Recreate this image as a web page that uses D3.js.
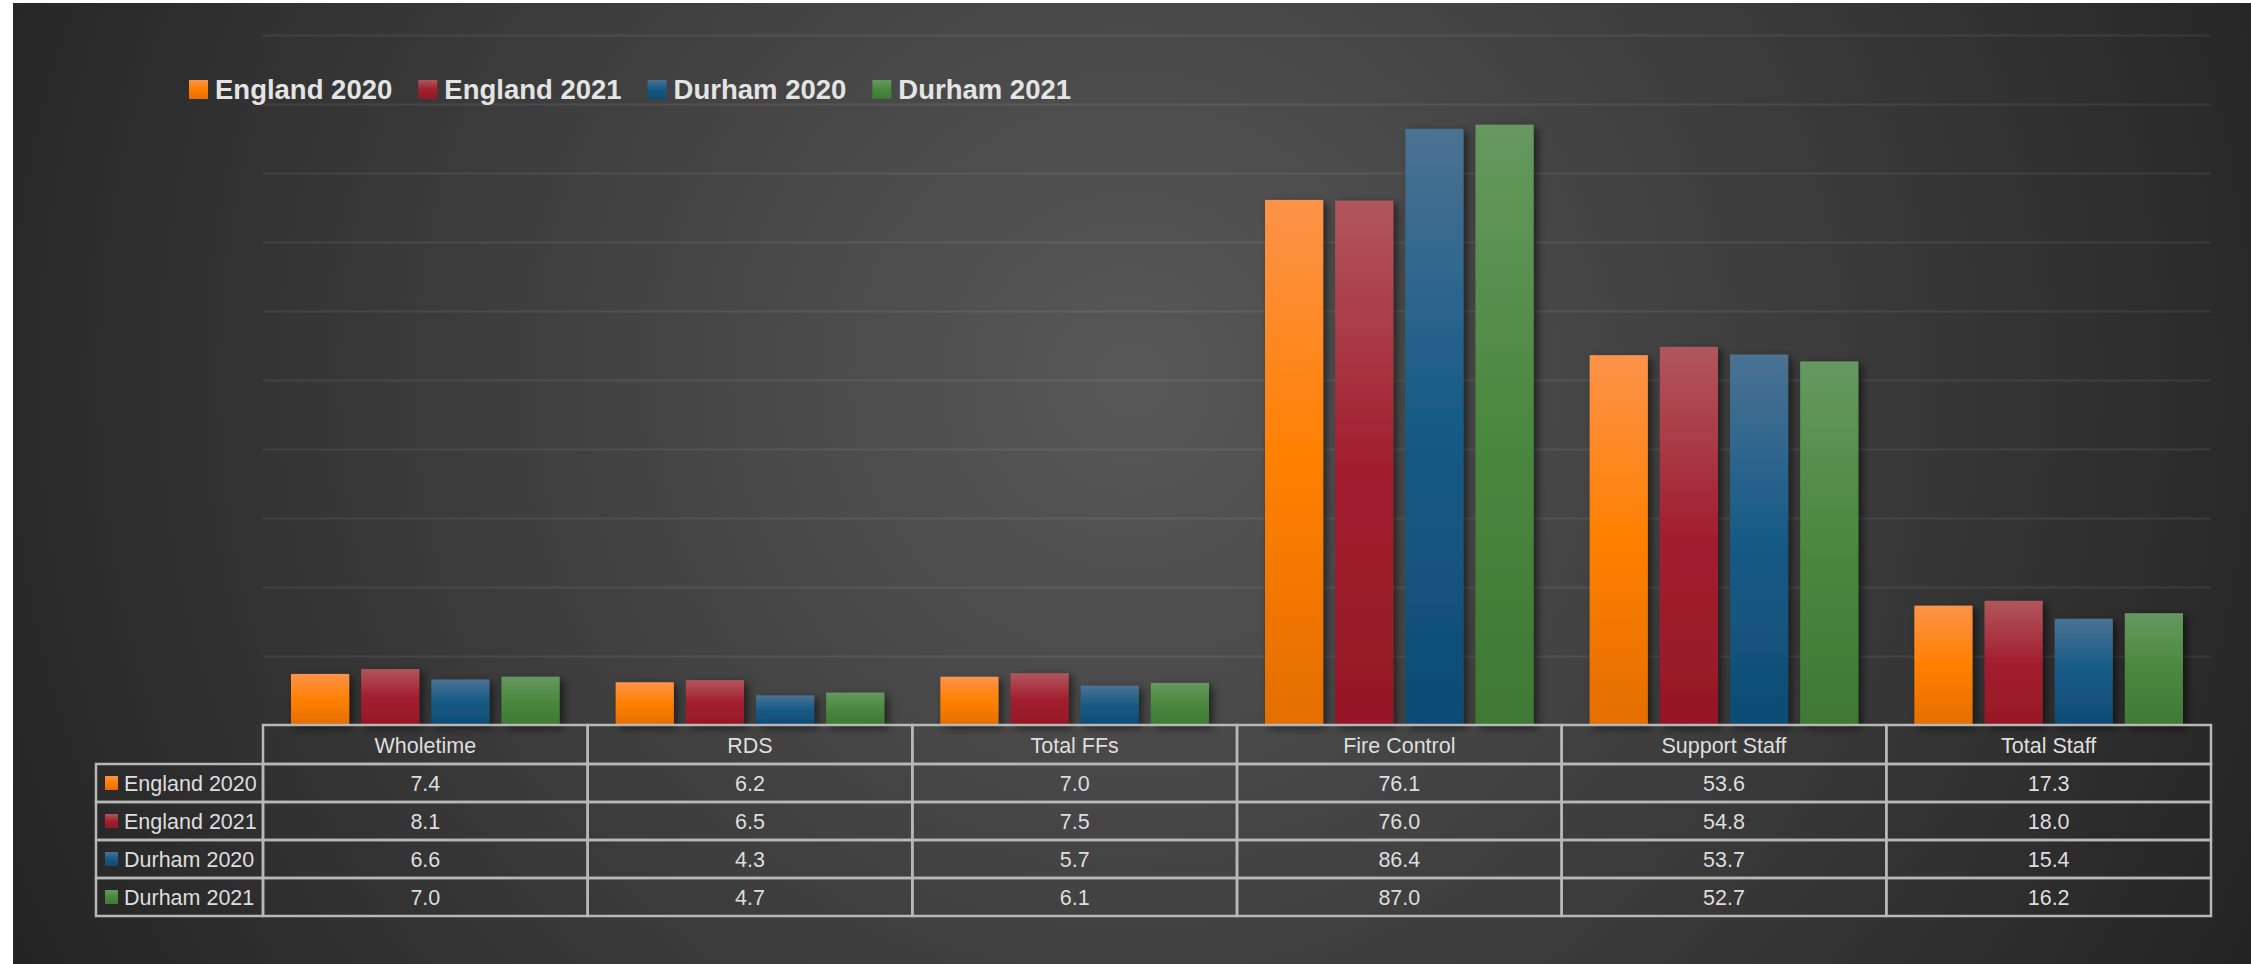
<!DOCTYPE html>
<html>
<head>
<meta charset="utf-8">
<script src="https://cdn.jsdelivr.net/npm/d3@7"></script>
<style>
  body { margin: 0; background: #fff; }
  svg { display: block; font-family: "Liberation Sans", Arial, sans-serif; }
</style>
</head>
<body>
<svg id="svg1" width="2251" height="964"></svg>
<script>
var categories = ['Wholetime', 'RDS', 'Total FFs', 'Fire Control', 'Support Staff', 'Total Staff'];
var seriesNames = ['England 2020', 'England 2021', 'Durham 2020', 'Durham 2021'];
var england2020 = [7.4, 6.2, 7.0, 76.1, 53.6, 17.3];
var england2021 = [8.1, 6.5, 7.5, 76.0, 54.8, 18.0];
var durham2020 = [6.6, 4.3, 5.7, 86.4, 53.7, 15.4];
var durham2021 = [7.0, 4.7, 6.1, 87.0, 52.7, 16.2];
var gridTicks = [10, 20, 30, 40, 50, 60, 70, 80, 90, 100];

var seriesValues = [england2020, england2021, durham2020, durham2021];
// top / middle / bottom of each bar's gradient
var seriesColors = [
    ['#fd934a', '#ff8000', '#e46e00'],
    ['#b1565d', '#a21f2f', '#951826'],
    ['#4a7293', '#165a86', '#0f4c73'],
    ['#66985f', '#4b883f', '#3e7934']
];

var width = 2251, height = 964;
var plotLeft = 263, plotRight = 2211, plotTop = 35, baseline = 725;
var tableLeft = 96, headerH = 39, rowH = 38;

var svg = d3.select('#svg1');
var defs = svg.append('defs');

var bg = defs.append('radialGradient')
    .attr('id', 'bg')
    .attr('gradientUnits', 'userSpaceOnUse')
    .attr('cx', 1130).attr('cy', 380).attr('r', 1300);
bg.append('stop').attr('offset', 0).attr('stop-color', '#585858');
bg.append('stop').attr('offset', 1).attr('stop-color', '#222222');

seriesColors.forEach(function(c, i) {
    var g = defs.append('linearGradient')
        .attr('id', 'grad' + i)
        .attr('x1', 0).attr('y1', 0).attr('x2', 0).attr('y2', 1);
    g.append('stop').attr('offset', 0).attr('stop-color', c[0]);
    g.append('stop').attr('offset', 0.5).attr('stop-color', c[1]);
    g.append('stop').attr('offset', 1).attr('stop-color', c[2]);
});

var shadow = defs.append('filter')
    .attr('id', 'shadow')
    .attr('x', '-30%').attr('y', '-10%').attr('width', '170%').attr('height', '130%');
shadow.append('feDropShadow')
    .attr('dx', 4).attr('dy', 3).attr('stdDeviation', 4)
    .attr('flood-color', '#000').attr('flood-opacity', 0.55);

// background
svg.append('rect')
    .attr('x', 13).attr('y', 3)
    .attr('width', width - 13).attr('height', height - 3)
    .attr('fill', 'url(#bg)');

// scales
var x0 = d3.scaleBand().domain(categories).range([plotLeft, plotRight]);
var x1 = d3.scaleBand().domain(seriesNames)
    .range([28, x0.bandwidth() - 28])
    .paddingInner(0.171);
var y = d3.scaleLinear().domain([0, 100]).range([baseline, plotTop]);

// gridlines
var grid = svg.append('g')
    .attr('transform', 'translate(' + plotLeft + ',0)')
    .call(d3.axisLeft(y).tickValues(gridTicks).tickSize(-(plotRight - plotLeft)).tickFormat(''));
grid.select('.domain').remove();
grid.selectAll('line')
    .attr('stroke', '#ffffff')
    .attr('stroke-opacity', 0.08)
    .attr('stroke-width', 2);

// bars
var groups = svg.selectAll('g.series')
    .data(seriesNames)
    .enter()
    .append('g')
    .attr('class', 'series')
    .attr('filter', 'url(#shadow)');

groups.selectAll('rect')
    .data(function(s, i) {
        return categories.map(function(c, j) {
            return {cat: c, series: s, idx: i, value: seriesValues[i][j]};
        });
    })
    .enter()
    .append('rect')
    .attr('x', function(d) { return x0(d.cat) + x1(d.series); })
    .attr('y', function(d) { return y(d.value); })
    .attr('width', x1.bandwidth())
    .attr('height', function(d) { return baseline - y(d.value); })
    .attr('fill', function(d) { return 'url(#grad' + d.idx + ')'; });

// data table
var table = svg.append('g');
var lineColor = '#b8b8b8';
var textColor = '#dedede';
var fmt = d3.format('.1f');

table.selectAll('rect.head')
    .data(categories)
    .enter()
    .append('rect')
    .attr('class', 'head')
    .attr('x', function(d) { return x0(d); })
    .attr('y', baseline)
    .attr('width', x0.bandwidth())
    .attr('height', headerH)
    .attr('fill', 'none')
    .attr('stroke', lineColor)
    .attr('stroke-width', 2.5);

table.selectAll('text.head')
    .data(categories)
    .enter()
    .append('text')
    .attr('class', 'head')
    .attr('x', function(d) { return x0(d) + x0.bandwidth() / 2; })
    .attr('y', baseline + headerH / 2 + 1)
    .attr('text-anchor', 'middle')
    .attr('dominant-baseline', 'central')
    .attr('fill', textColor)
    .attr('font-size', 21.5)
    .text(function(d) { return d; });

var rows = table.selectAll('g.row')
    .data(seriesNames)
    .enter()
    .append('g')
    .attr('class', 'row')
    .attr('transform', function(d, i) {
        return 'translate(0,' + (baseline + headerH + i * rowH) + ')';
    });

rows.append('rect')
    .attr('x', tableLeft)
    .attr('width', plotLeft - tableLeft)
    .attr('height', rowH)
    .attr('fill', 'none')
    .attr('stroke', lineColor)
    .attr('stroke-width', 2.5);

rows.append('rect')
    .attr('x', tableLeft + 9)
    .attr('y', rowH / 2 - 7)
    .attr('width', 13)
    .attr('height', 14)
    .attr('fill', function(d, i) { return 'url(#grad' + i + ')'; });

rows.append('text')
    .attr('x', tableLeft + 28)
    .attr('y', rowH / 2 + 1)
    .attr('dominant-baseline', 'central')
    .attr('fill', textColor)
    .attr('font-size', 21.5)
    .text(function(d) { return d; });

rows.each(function(s, i) {
    var row = d3.select(this);
    row.selectAll('rect.cell')
        .data(categories)
        .enter()
        .append('rect')
        .attr('class', 'cell')
        .attr('x', function(c) { return x0(c); })
        .attr('width', x0.bandwidth())
        .attr('height', rowH)
        .attr('fill', 'none')
        .attr('stroke', lineColor)
        .attr('stroke-width', 2.5);
    row.selectAll('text.cell')
        .data(categories)
        .enter()
        .append('text')
        .attr('class', 'cell')
        .attr('x', function(c) { return x0(c) + x0.bandwidth() / 2; })
        .attr('y', rowH / 2 + 1)
        .attr('text-anchor', 'middle')
        .attr('dominant-baseline', 'central')
        .attr('fill', textColor)
        .attr('font-size', 21.5)
        .text(function(c, j) { return fmt(seriesValues[i][j]); });
});

// legend
var legend = svg.append('g').attr('transform', 'translate(189,80)');
var lx = 0;
seriesNames.forEach(function(s, i) {
    legend.append('rect')
        .attr('x', lx).attr('y', 0)
        .attr('width', 19).attr('height', 19)
        .attr('fill', 'url(#grad' + i + ')');
    var t = legend.append('text')
        .attr('x', lx + 26)
        .attr('y', 19)
        .attr('fill', '#e4e4e4')
        .attr('font-size', 27.5)
        .attr('font-weight', 'bold')
        .text(s);
    lx = lx + 26 + t.node().getComputedTextLength() + 26;
});
</script>
</body>
</html>
